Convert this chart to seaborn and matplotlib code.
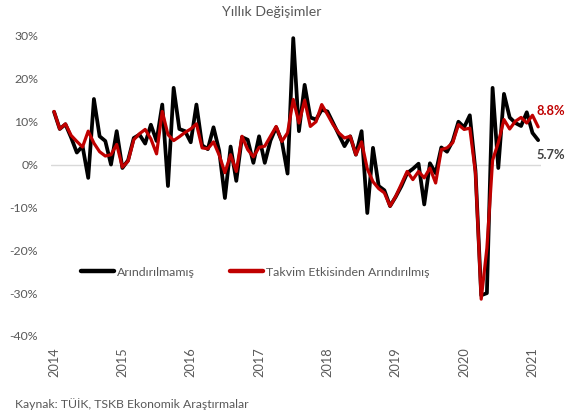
import matplotlib
matplotlib.use("Agg")
import matplotlib.pyplot as plt
import seaborn as sns
import pandas as pd
import numpy as np

# ---- data (monthly, Jan 2014 - Feb 2021), annual % change ----
years = ["2014", "2015", "2016", "2017", "2018", "2019", "2020", "2021"]
unadjusted = [
    12.3, 8.3, 9.4, 6.3, 2.8, 4.3, -3.1, 15.3, 6.6, 5.5, 0.0, 7.8,
    -0.8, 1.0, 6.2, 7.0, 4.9, 9.3, 5.5, 14.0, -5.0, 17.9, 8.3, 7.8,
    5.2, 14.0, 4.5, 3.6, 8.7, 3.2, -7.8, 4.2, -3.8, 6.4, 5.8, 0.4,
    6.6, 0.4, 5.6, 8.7, 5.4, -2.1, 29.5, 7.8, 18.6, 11.0, 10.5, 12.8,
    12.4, 9.7, 7.0, 4.3, 6.6, 2.3, 7.8, -11.3, 3.9, -5.0, -6.0, -9.7,
    -7.5, -5.0, -2.0, -1.0, 0.2, -9.3, 0.3, -2.0, 4.0, 3.0, 5.5, 10.0,
    8.7, 11.5, -1.5, -30.5, -30.0, 17.9, -0.8, 16.5, 11.0, 9.7, 9.0, 12.2,
    7.4, 5.7,
]
calendar_adj = [
    12.4, 8.3, 9.5, 6.8, 5.4, 4.1, 7.8, 5.0, 3.0, 2.0, 2.3, 4.7,
    -0.6, 0.8, 5.8, 7.2, 8.2, 6.0, 2.5, 12.4, 7.0, 5.6, 6.5, 7.5,
    8.3, 9.5, 3.9, 3.7, 5.3, 2.2, -1.9, 2.3, -1.6, 6.6, 3.5, 1.8,
    4.0, 4.3, 6.6, 8.9, 5.4, 7.4, 15.2, 9.7, 15.0, 8.9, 10.0, 14.0,
    11.7, 9.3, 7.4, 6.2, 6.6, 2.3, 5.3, -1.0, -4.0, -5.6, -6.6, -9.7,
    -7.4, -4.5, -1.6, -3.5, -1.6, -3.1, -0.8, -4.3, 3.5, 3.9, 5.1, 9.3,
    8.2, 8.5, -2.0, -31.4, -19.5, 1.0, 5.1, 10.5, 8.3, 10.1, 11.0, 9.7,
    11.5, 8.8,
]
series_names = ["Arındırılmamış", "Takvim Etkisinden Arındırılmış"]
y_ticks = [30, 20, 10, 0, -10, -20, -30, -40]

months = np.arange(len(unadjusted))
df = pd.DataFrame({"m": months, series_names[0]: unadjusted, series_names[1]: calendar_adj})
long = df.melt(id_vars="m", var_name="seri", value_name="deg")

sns.set_style("white")
plt.rcParams["font.family"] = ["Lato", "DejaVu Sans"]

W, H = 582, 417
fig = plt.figure(figsize=(W / 100, H / 100), dpi=100)
left, right, top, bottom = 51.2, 541.0, 36.0, 336.0
ax = fig.add_axes([left / W, 1 - bottom / H, (right - left) / W, (bottom - top) / H])

gray = "#595959"
colors = {series_names[0]: "#000000", series_names[1]: "#C00000"}
sns.lineplot(data=long, x="m", y="deg", hue="seri", palette=colors, ax=ax,
             linewidth=2.5, legend=False)
for ln, lw in zip(ax.lines, [2.7, 2.3]):
    ln.set_linewidth(lw)
    ln.set_clip_on(False)
    ln.set_solid_joinstyle("round")

ax.axhline(0, color="#d9d9d9", lw=1.0, zorder=0)
ax.set_xlim(-0.5, 85.5)
ax.set_ylim(-40, 30)
ax.set_yticks(y_ticks)
ax.set_yticklabels([f"{t}%" for t in y_ticks], color=gray, fontsize=8.8)
ax.set_xticks(np.arange(0, 85, 12))
ax.set_xticklabels(years, rotation=90, color=gray, fontsize=9.2)
ax.tick_params(axis="y", length=0, pad=9.5)
ax.tick_params(axis="x", length=0, pad=8)
for s in ax.spines.values():
    s.set_visible(False)
ax.set_xlabel("")
ax.set_ylabel("")

# legend
from matplotlib.lines import Line2D
handles = [Line2D([], [], color=colors[n], lw=3.2) for n in series_names]
leg = ax.legend(handles, series_names, loc="center left",
                bbox_to_anchor=((81 - left) / (right - left), (bottom - 272) / (bottom - top)),
                ncol=2, frameon=False, fontsize=8.9, handlelength=2.7,
                handletextpad=0.25, columnspacing=2.8, borderpad=0, borderaxespad=0)
for t in leg.get_texts():
    t.set_color(gray)

# end labels
ax.text(84.7, 12.4, "8.8%", color="#C00000", fontsize=9.3, fontweight="bold",
        ha="left", va="center")
ax.text(84.7, 2.3, "5.7%", color="#404040", fontsize=9.3, fontweight="bold",
        ha="left", va="center")

fig.text(272 / W, 1 - 12 / H, "Yıllık Değişimler", color=gray, fontsize=10.2,
         ha="center", va="center")
fig.text(15 / W, 1 - 404 / H, "Kaynak: TÜİK, TSKB Ekonomik Araştırmalar", color=gray,
         fontsize=8.8, ha="left", va="center")

fig.savefig("out.png", dpi=100, facecolor="white")
